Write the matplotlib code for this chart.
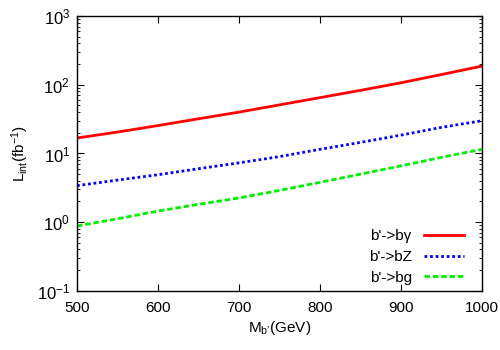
import numpy as np
import matplotlib.pyplot as plt
from matplotlib.ticker import LogLocator, NullFormatter, FixedLocator

# masses (GeV) and integrated luminosities (fb^-1)
mass = [500, 550, 600, 650, 700, 750, 800, 850, 900, 950, 1000]
l_bgamma = [16.8, 20.5, 25.5, 32, 40, 51, 65, 83, 107, 141, 187]
l_bZ = [3.4, 4.1, 4.9, 6.0, 7.3, 9.0, 11.5, 14.5, 18.5, 24, 30]
l_bg = [0.88, 1.12, 1.45, 1.82, 2.25, 2.9, 3.8, 5.0, 6.6, 8.8, 11.5]

plt.rcParams['font.family'] = ['Liberation Sans', 'DejaVu Sans']
plt.rcParams['font.size'] = 11
plt.rcParams['mathtext.fontset'] = 'custom'
plt.rcParams['mathtext.rm'] = 'Liberation Sans'
plt.rcParams['mathtext.it'] = 'Liberation Sans'

fig = plt.figure(figsize=(5, 3.5), dpi=100)
ax = fig.add_axes([0.154, 0.169, 0.81, 0.785])

ax.plot(mass, l_bgamma, color='#ff0000', lw=2, ls='-', label="b'->b\u03b3")
ax.plot(mass, l_bZ, color='#0000ff', lw=2, ls=(0, (1, 1)), label="b'->bZ")
ax.plot(mass, l_bg, color='#00ee00', lw=2, ls=(0, (2, 1)), label="b'->bg")

ax.set_yscale('log')
ax.set_xlim(500, 1000)
ax.set_ylim(0.1, 1000)
ax.xaxis.set_major_locator(FixedLocator([500, 600, 700, 800, 900, 1000]))
ax.yaxis.set_minor_locator(LogLocator(base=10, subs=np.arange(2, 10), numticks=10))
ax.yaxis.set_minor_formatter(NullFormatter())
ax.set_yticks([0.1, 1, 10, 100, 1000])
ax.set_yticklabels(['10$^{-1}$', '10$^{0}$', '10$^{1}$', '10$^{2}$', '10$^{3}$'],
                   fontsize=12)
ax.tick_params(which='both', direction='in', top=True, right=True)
ax.tick_params(axis='x', which='major', pad=7, labelsize=11)
ax.tick_params(axis='y', which='major', pad=5)
ax.tick_params(which='major', length=5, width=0.8)
ax.tick_params(which='minor', length=2.5, width=0.6)
for s in ax.spines.values():
    s.set_linewidth(1.0)

ax.set_xlabel("M$_{\\mathrm{b\u2019}}$(GeV)", labelpad=3)
ax.set_ylabel("L$_{\\mathrm{int}}$(fb$^{\\mathrm{-1}}$)", labelpad=4)

ax.legend(loc='lower right', frameon=False, markerfirst=False,
          handlelength=2.6, handletextpad=0.8, labelspacing=0.45,
          borderaxespad=0.0, bbox_to_anchor=(0.97, 0.0))

fig.savefig('out.png', dpi=100)
